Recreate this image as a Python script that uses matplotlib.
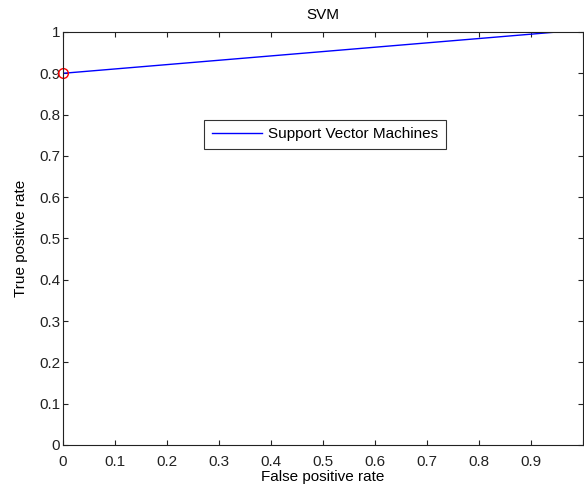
import matplotlib
matplotlib.use("Agg")
import matplotlib.pyplot as plt

fpr = [0.0, 0.95, 0.976]
tpr = [0.9, 1.0, 1.0]
point_x = [0.0]
point_y = [0.9]
xticks = [0, 0.1, 0.2, 0.3, 0.4, 0.5, 0.6, 0.7, 0.8, 0.9, 1.0]
xticklabels = ["0", "0.1", "0.2", "0.3", "0.4", "0.5", "0.6", "0.7", "0.8", "0.9", ""]
yticks = [0, 0.1, 0.2, 0.3, 0.4, 0.5, 0.6, 0.7, 0.8, 0.9, 1.0]
yticklabels = ["0", "0.1", "0.2", "0.3", "0.4", "0.5", "0.6", "0.7", "0.8", "0.9", "1"]

plt.rcParams['font.family'] = ['Liberation Sans', 'DejaVu Sans']

fig = plt.figure(figsize=(5.84, 4.91), dpi=100)
ax = fig.add_axes([63/584, 46/491, 520/584, 413/491])

ax.plot(fpr, tpr, color='blue', lw=1, label='Support Vector Machines')
ax.plot(point_x, point_y, 'o', mfc='none', mec='red', ms=7, mew=1, clip_on=False)

ax.set_xlim(0, 1)
ax.set_ylim(0, 1)
ax.set_xticks(xticks)
ax.set_xticklabels(xticklabels)
ax.set_yticks(yticks)
ax.set_yticklabels(yticklabels)
ax.tick_params(direction='in', top=True, right=True, length=3.6, labelsize=11, colors='#222222')
ax.tick_params(axis='x', pad=7)
ax.tick_params(axis='y', pad=2)
for s in ax.spines.values():
    s.set_color('#222222')
    s.set_linewidth(0.8)

ax.set_xlabel('False positive rate', fontsize=11, labelpad=1)
ax.set_ylabel('True positive rate', fontsize=11, labelpad=8)
ax.set_title('SVM', fontsize=11, pad=9)

leg = ax.legend(loc='center', bbox_to_anchor=(0.504, 0.752), fontsize=11, frameon=True,
                fancybox=False, edgecolor='black', handlelength=3.3, handletextpad=0.4,
                borderpad=0.5, borderaxespad=0)
leg.get_frame().set_linewidth(0.8)

fig.savefig('out.png', dpi=100)
